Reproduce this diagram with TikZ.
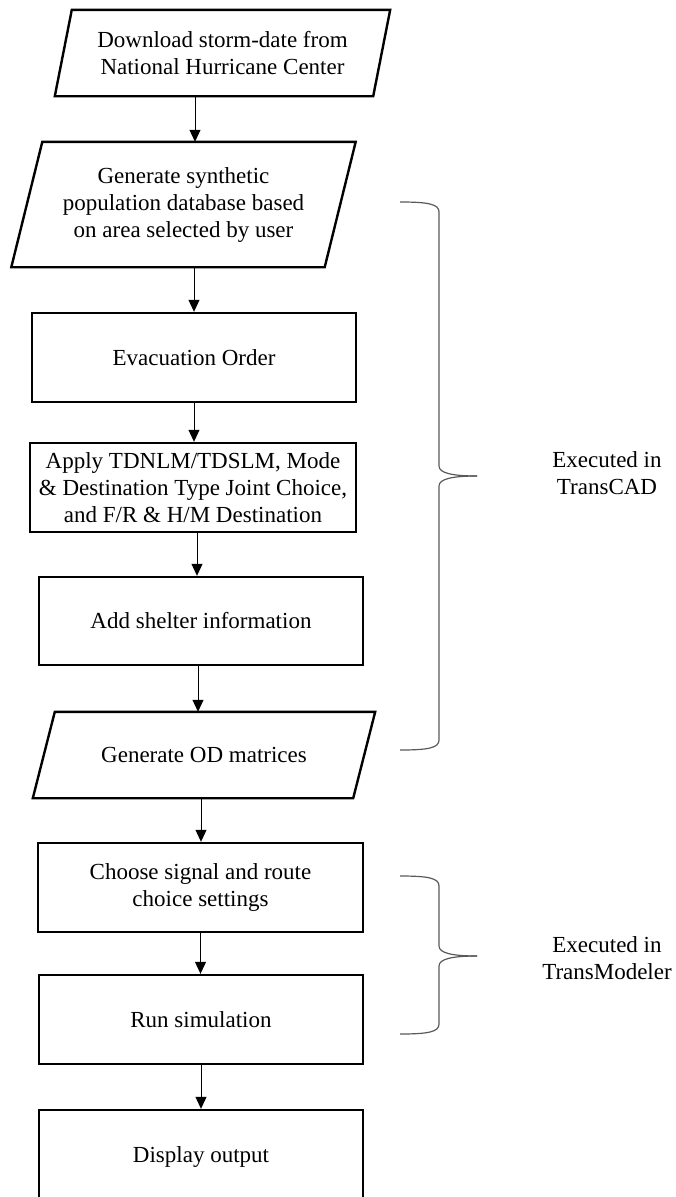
\documentclass[tikz,border=0pt]{standalone}
\usepackage{fontspec}
\setmainfont{Liberation Serif}
\usetikzlibrary{arrows.meta,calc}
\definecolor{bracegray}{gray}{0.35}
\begin{document}
\begin{tikzpicture}[x=1pt,y=-1pt,
  font=\fontsize{23}{27}\selectfont,
  procbox/.style={draw, line width=2.4pt, inner sep=2pt, align=center, minimum height=89pt},
  slantbox/.style={inner sep=0pt, align=center},
  outline/.style={line width=2.4pt},
  arr/.style={line width=1pt, -{Triangle[width=11pt,length=12pt]}},
  bracel/.style={line width=1.2pt, draw=bracegray}]
\useasboundingbox (0,0) rectangle (675,1197);
\clip (0,0) rectangle (675,1197);

% input / output steps (parallelograms)
\node[slantbox, minimum width=318pt, minimum height=86pt] (b1) at (222.5,53)
  {Download storm-date from\\National Hurricane Center};
\draw[outline] ($(b1.north west)+(8.5,0)$) -- ($(b1.north east)+(8.5,0)$)
  -- ($(b1.south east)+(-8.5,0)$) -- ($(b1.south west)+(-8.5,0)$) -- cycle;

\node[slantbox, minimum width=313pt, minimum height=125pt] (b2) at (183.5,204.5)
  {Generate synthetic\\population database based\\on area selected by user};
\draw[outline] ($(b2.north west)+(15.5,0)$) -- ($(b2.north east)+(15.5,0)$)
  -- ($(b2.south east)+(-15.5,0)$) -- ($(b2.south west)+(-15.5,0)$) -- cycle;

% process steps
\node[procbox, minimum width=324pt] (b3) at (194,357.5) {Evacuation Order};
\node[procbox, minimum width=326pt, inner sep=1pt] (b4) at (193,487.5)
  {Apply TDNLM/TDSLM, Mode\\\& Destination Type Joint Choice,\\and F/R \& H/M Destination};
\node[procbox, minimum width=324pt, minimum height=88pt] (b5) at (201,621) {Add shelter information};

\node[slantbox, minimum width=320pt, minimum height=86pt] (b6) at (204,755)
  {Generate OD matrices};
\draw[outline] ($(b6.north west)+(11,0)$) -- ($(b6.north east)+(11,0)$)
  -- ($(b6.south east)+(-11,0)$) -- ($(b6.south west)+(-11,0)$) -- cycle;

\node[procbox, minimum width=325pt] (b7) at (200.5,887.5) {Choose signal and route\\choice settings};
\node[procbox, minimum width=324pt] (b8) at (201,1019.5) {Run simulation};
\node[procbox, minimum width=324pt, minimum height=94pt] (b9) at (201,1157) {Display output};

% flow arrows
\draw[arr] ([xshift=-27.5pt]b1.south) -- ([xshift=-27.5pt]b1.south |- b2.north);
\draw[arr] ([xshift=10.5pt]b2.south) -- ([xshift=10.5pt]b2.south |- b3.north);
\draw[arr] (b3.south) -- (b3.south |- b4.north);
\draw[arr] ([xshift=4pt]b4.south) -- ([xshift=4pt]b4.south |- b5.north);
\draw[arr] ([xshift=-3pt]b5.south) -- ([xshift=-3pt]b5.south |- b6.north);
\draw[arr] ([xshift=-3pt]b6.south) -- ([xshift=-3pt]b6.south |- b7.north);
\draw[arr] (b7.south) -- (b7.south |- b8.north);
\draw[arr] (b8.south) -- (b8.south |- b9.north);

% braces grouping the software stages
\coordinate (t1) at (477,476);
\draw[bracel] (400,202) .. controls (428,202) and (439,204) .. (439,212) -- (439,466)
  .. controls (439,473) and (452,476) .. (t1);
\draw[bracel] (t1) .. controls (452,476) and (439,479) .. (439,486) -- (439,740)
  .. controls (439,748) and (428,750) .. (400,750);
\node[align=center] (l1) at (607,473) {Executed in\\TransCAD};

\coordinate (t2) at (477,956);
\draw[bracel] (400,876) .. controls (428,876) and (439,878) .. (439,886) -- (439,946)
  .. controls (439,953) and (452,956) .. (t2);
\draw[bracel] (t2) .. controls (452,956) and (439,959) .. (439,966) -- (439,1024)
  .. controls (439,1032) and (428,1034) .. (400,1034);
\node[align=center] (l2) at (607,958) {Executed in\\TransModeler};
\end{tikzpicture}
\end{document}
